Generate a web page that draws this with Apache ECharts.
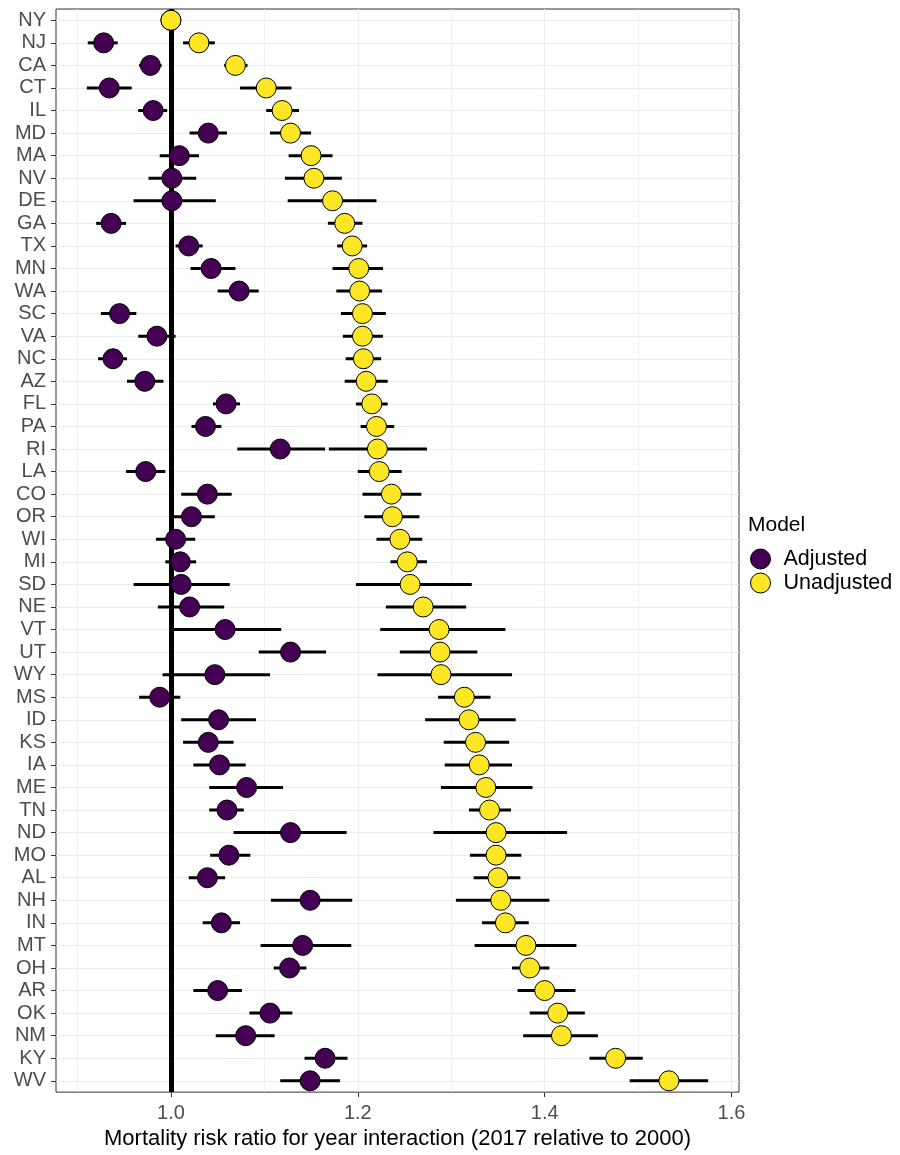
<!DOCTYPE html>
<html>
<head>
<meta charset="utf-8">
<script src="https://cdn.jsdelivr.net/npm/echarts@6/dist/echarts.min.js"></script>
<style>
  html, body { margin: 0; padding: 0; background: #fff; }
  #chart { width: 900px; height: 1155px; }
</style>
</head>
<body>
<div id="chart"></div>
<script>
// States, top to bottom
const states = ['NY','NJ','CA','CT','IL','MD','MA','NV','DE','GA','TX','MN','WA','SC','VA','NC','AZ','FL','PA','RI','LA','CO','OR','WI','MI','SD','NE','VT','UT','WY','MS','ID','KS','IA','ME','TN','ND','MO','AL','NH','IN','MT','OH','AR','OK','NM','KY','WV'];

// Adjusted model: estimate and 95% interval
const adjEst = [1.000,0.928,0.978,0.934,0.981,1.040,1.009,1.001,1.001,0.936,1.019,1.043,1.073,0.945,0.985,0.938,0.972,1.059,1.037,1.117,0.973,1.039,1.022,1.005,1.010,1.011,1.020,1.058,1.128,1.047,0.988,1.051,1.040,1.052,1.081,1.060,1.128,1.062,1.039,1.149,1.054,1.141,1.127,1.050,1.106,1.080,1.165,1.149];
const adjLo  = [1.000,0.911,0.966,0.910,0.965,1.020,0.988,0.976,0.960,0.920,1.005,1.021,1.050,0.925,0.965,0.922,0.953,1.045,1.022,1.071,0.952,1.011,1.003,0.984,0.994,0.960,0.986,1.003,1.094,0.991,0.966,1.011,1.013,1.024,1.041,1.041,1.067,1.042,1.019,1.107,1.034,1.096,1.110,1.024,1.084,1.048,1.143,1.117];
const adjHi  = [1.000,0.943,0.990,0.958,0.996,1.060,1.030,1.027,1.048,0.952,1.034,1.069,1.094,0.963,1.005,0.953,0.992,1.074,1.054,1.165,0.994,1.065,1.047,1.026,1.027,1.063,1.057,1.118,1.166,1.106,1.010,1.091,1.067,1.080,1.120,1.078,1.188,1.085,1.058,1.194,1.074,1.193,1.145,1.076,1.130,1.111,1.189,1.181];

// Unadjusted model: estimate and 95% interval
const unadjEst = [1.000,1.030,1.069,1.102,1.119,1.128,1.150,1.153,1.173,1.186,1.194,1.201,1.202,1.205,1.205,1.206,1.209,1.215,1.220,1.221,1.223,1.236,1.237,1.245,1.253,1.256,1.270,1.287,1.288,1.289,1.314,1.319,1.326,1.330,1.337,1.341,1.348,1.348,1.350,1.353,1.358,1.380,1.384,1.400,1.414,1.418,1.476,1.533];
const unadjLo  = [1.000,1.013,1.057,1.074,1.102,1.106,1.126,1.122,1.125,1.168,1.178,1.173,1.177,1.182,1.184,1.187,1.186,1.198,1.203,1.169,1.200,1.205,1.207,1.220,1.235,1.198,1.230,1.224,1.245,1.221,1.286,1.272,1.292,1.293,1.289,1.319,1.281,1.320,1.324,1.305,1.333,1.325,1.365,1.371,1.384,1.377,1.448,1.491];
const unadjHi  = [1.000,1.047,1.082,1.129,1.137,1.150,1.173,1.183,1.220,1.205,1.210,1.227,1.226,1.230,1.227,1.225,1.232,1.232,1.239,1.274,1.247,1.268,1.266,1.269,1.274,1.322,1.316,1.358,1.328,1.365,1.342,1.369,1.362,1.365,1.387,1.364,1.424,1.375,1.374,1.405,1.383,1.434,1.405,1.433,1.443,1.457,1.505,1.575];

// X axis ticks
const xTicks = [1.0, 1.2, 1.4, 1.6];
const xMinorTicks = [0.9, 1.1, 1.3, 1.5];
const xMin = 0.877, xMax = 1.608;
const refValue = 1.0;

const FONT = '"Liberation Sans", Arial, Helvetica, sans-serif';
const GRID_COLOR = '#EBEBEB';

function intervalData(lo, hi) {
  return states.map((s, i) => [lo[i], hi[i], s]);
}
function pointData(est) {
  return states.map((s, i) => [est[i], s]);
}

// Horizontal interval line from lo to hi on the row of each state
function renderInterval(params, api) {
  const y = api.value(2);
  const p0 = api.coord([api.value(0), y]);
  const p1 = api.coord([api.value(1), y]);
  return {
    type: 'line',
    shape: { x1: p0[0], y1: p0[1], x2: p1[0], y2: p1[1] },
    style: { stroke: '#000', lineWidth: 3, fill: null }
  };
}

const chart = echarts.init(document.getElementById('chart'), null, { renderer: 'canvas' });

const option = {
  animation: false,
  backgroundColor: '#fff',
  textStyle: { fontFamily: FONT },
  grid: {
    left: 56, right: 161, top: 9, bottom: 57,
    show: true, borderColor: '#333333', borderWidth: 1, backgroundColor: '#fff'
  },
  title: {
    text: 'Model',
    left: 743, top: 510,
    textStyle: { fontFamily: FONT, fontSize: 21, fontWeight: 'normal', color: '#000' }
  },
  legend: {
    data: ['Adjusted', 'Unadjusted'],
    orient: 'vertical',
    left: 745, top: 543,
    itemWidth: 20, itemHeight: 20, itemGap: 2,
    icon: 'circle',
    itemStyle: { borderColor: '#000', borderWidth: 1 },
    textStyle: { fontFamily: FONT, fontSize: 21.5, color: '#000', padding: [0, 0, 0, 8] },
    selectedMode: false
  },
  xAxis: {
    type: 'value',
    min: xMin, max: xMax,
    name: 'Mortality risk ratio for year interaction (2017 relative to 2000)',
    nameLocation: 'middle',
    nameGap: 31,
    nameTextStyle: { fontFamily: FONT, fontSize: 22, color: '#000' },
    axisLine: { show: false },
    axisTick: { show: true, length: 5, customValues: xTicks, lineStyle: { color: '#333333', width: 1 } },
    axisLabel: {
      customValues: xTicks, margin: 11,
      fontFamily: FONT, fontSize: 20, color: '#4D4D4D',
      formatter: v => v.toFixed(1)
    },
    splitLine: { show: true, lineStyle: { color: GRID_COLOR, width: 1.2 } }
  },
  yAxis: {
    type: 'category',
    data: states,
    inverse: true,
    boundaryGap: true,
    axisLine: { show: false },
    axisTick: { show: true, alignWithLabel: true, length: 5, lineStyle: { color: '#333333', width: 1 } },
    axisLabel: { margin: 10, fontFamily: FONT, fontSize: 20, color: '#4D4D4D', interval: 0 },
    splitLine: { show: true, alignWithLabel: true, interval: 0, lineStyle: { color: GRID_COLOR, width: 1.2 } }
  },
  series: [
    {
      // Minor vertical gridlines and the reference line at 1.0
      name: 'Reference',
      type: 'scatter',
      data: [],
      z: 1,
      silent: true,
      markLine: {
        z: 1,
        silent: true,
        animation: false,
        symbol: ['none', 'none'],
        label: { show: false },
        data: xMinorTicks.map(v => ({ xAxis: v, lineStyle: { color: GRID_COLOR, width: 0.7, type: 'solid' } }))
          .concat([{ xAxis: refValue, lineStyle: { color: '#000', width: 5, type: 'solid' } }])
      }
    },
    {
      name: 'Adjusted interval',
      type: 'custom',
      renderItem: renderInterval,
      encode: { x: [0, 1], y: 2 },
      data: intervalData(adjLo, adjHi),
      z: 2,
      silent: true
    },
    {
      name: 'Unadjusted interval',
      type: 'custom',
      renderItem: renderInterval,
      encode: { x: [0, 1], y: 2 },
      data: intervalData(unadjLo, unadjHi),
      z: 3,
      silent: true
    },
    {
      name: 'Adjusted',
      type: 'scatter',
      data: pointData(adjEst),
      symbol: 'circle',
      symbolSize: 20,
      itemStyle: { color: '#440154', borderColor: '#000', borderWidth: 1, opacity: 1 },
      z: 4
    },
    {
      name: 'Unadjusted',
      type: 'scatter',
      data: pointData(unadjEst),
      symbol: 'circle',
      symbolSize: 20,
      itemStyle: { color: '#FDE725', borderColor: '#000', borderWidth: 1, opacity: 1 },
      z: 5
    }
  ]
};

chart.setOption(option);
</script>
</body>
</html>
